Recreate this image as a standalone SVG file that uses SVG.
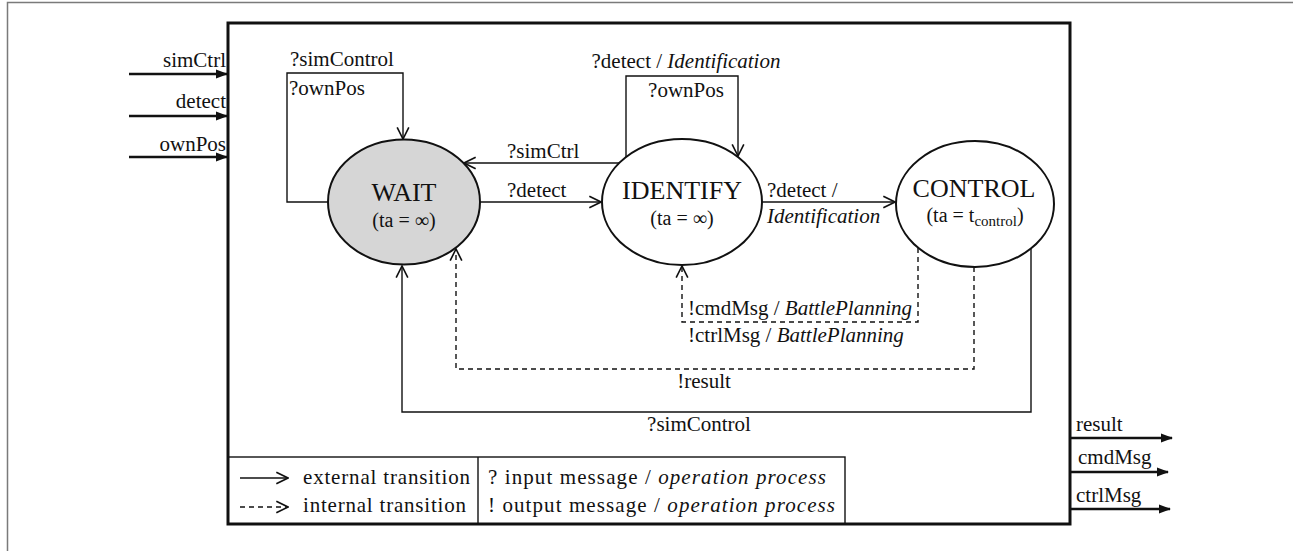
<svg xmlns="http://www.w3.org/2000/svg" width="1293" height="551" viewBox="0 0 1293 551">
  <style>
    text { font-family: "Liberation Serif", "Times New Roman", serif; font-size: 21px; fill: #111; }
    .big { font-size: 26px; }
    .sub { font-size: 20px; }
    .it { font-style: italic; }
    .mid { text-anchor: middle; }
    .end { text-anchor: end; }
    .state { stroke: #111; stroke-width: 2; fill: #fff; }
    .ext { fill: none; stroke: #111; stroke-width: 1.4; marker-end: url(#open); }
    .int { fill: none; stroke: #111; stroke-width: 1.4; stroke-dasharray: 5 4; marker-end: url(#open); }
    .port { fill: none; stroke: #111; stroke-width: 2.5; marker-end: url(#solid); }
  </style>
  <defs>
    <marker id="open" markerUnits="userSpaceOnUse" markerWidth="14" markerHeight="14" viewBox="0 0 12 12" refX="11" refY="6" orient="auto">
      <path d="M1,1 L11,6 L1,11" fill="none" stroke="#111" stroke-width="1.4"/>
    </marker>
    <marker id="solid" markerUnits="userSpaceOnUse" markerWidth="12" markerHeight="10" viewBox="0 0 12 10" refX="11" refY="5" orient="auto">
      <path d="M0,0.5 L12,5 L0,9.5 Z" fill="#111"/>
    </marker>
  </defs>

  <rect width="1293" height="551" fill="#fff"/>
  <!-- outer page border -->
  <path d="M7.5,551 V2.5 H1293" fill="none" stroke="#7a7a7a" stroke-width="1.5"/>

  <!-- coupled model boundary -->
  <g id="model">
    <rect x="228" y="23" width="842" height="501" fill="none" stroke="#111" stroke-width="3"/>
  </g>

  <!-- input ports -->
  <g id="inputs">
    <line class="port" x1="129" y1="74" x2="227" y2="74"/>
    <line class="port" x1="129" y1="116" x2="227" y2="116"/>
    <line class="port" x1="129" y1="157" x2="227" y2="157"/>
    <text class="end" x="226" y="67">simCtrl</text>
    <text class="end" x="226" y="108">detect</text>
    <text class="end" x="226" y="151">ownPos</text>
  </g>

  <!-- output ports -->
  <g id="outputs">
    <line class="port" x1="1071" y1="438" x2="1172" y2="438"/>
    <line class="port" x1="1071" y1="472" x2="1168" y2="472"/>
    <line class="port" x1="1071" y1="509" x2="1170" y2="509"/>
    <text x="1076" y="431">result</text>
    <text x="1078" y="464">cmdMsg</text>
    <text x="1076" y="502">ctrlMsg</text>
  </g>

  <!-- transitions -->
  <g id="connectors">
    <!-- WAIT self loop -->
    <path class="ext" d="M328,202 H287 V73 H403 V139"/>
    <!-- WAIT -> IDENTIFY -->
    <path class="ext" d="M480,202 H601"/>
    <!-- IDENTIFY -> WAIT -->
    <path class="ext" d="M619,163 H464"/>
    <!-- IDENTIFY self loop -->
    <path class="ext" d="M626,157 V76 H738 V156"/>
    <!-- IDENTIFY -> CONTROL -->
    <path class="ext" d="M762,202 H895"/>
    <!-- CONTROL -> IDENTIFY (internal) -->
    <path class="int" d="M918,248 V322 H682 V266"/>
    <!-- CONTROL -> WAIT (internal) -->
    <path class="int" d="M974,267 V369 H456 V249"/>
    <!-- CONTROL -> WAIT (external) -->
    <path class="ext" d="M1031,249 V412 H402 V266"/>

    <text x="290" y="66">?simControl</text>
    <text x="289" y="95">?ownPos</text>
    <text x="507" y="158">?simCtrl</text>
    <text x="507" y="197">?detect</text>
    <text class="mid" x="686" y="68">?detect / <tspan class="it">Identification</tspan></text>
    <text class="mid" x="686" y="97">?ownPos</text>
    <text x="767" y="197">?detect /</text>
    <text class="it" x="767" y="223">Identification</text>
    <text x="688" y="315">!cmdMsg / <tspan class="it">BattlePlanning</tspan></text>
    <text x="688" y="342">!ctrlMsg / <tspan class="it">BattlePlanning</tspan></text>
    <text class="mid" x="704" y="388">!result</text>
    <text class="mid" x="699" y="431">?simControl</text>
  </g>

  <!-- states -->
  <g id="wait">
    <ellipse class="state" cx="404" cy="202" rx="76" ry="62.5" style="fill:#d6d6d6"/>
    <text class="big mid" x="404" y="201">WAIT</text>
    <text class="sub mid" x="404" y="227">(ta = ∞)</text>
  </g>
  <g id="identify">
    <ellipse class="state" cx="682" cy="202" rx="80" ry="63"/>
    <text class="big mid" x="682" y="199">IDENTIFY</text>
    <text class="sub mid" x="682" y="225">(ta = ∞)</text>
  </g>
  <g id="control">
    <ellipse class="state" cx="975" cy="204" rx="79" ry="63"/>
    <text class="big mid" x="974" y="197">CONTROL</text>
    <text class="sub mid" x="975" y="222">(ta = t<tspan font-size="15" dy="4">control</tspan><tspan dy="-4">)</tspan></text>
  </g>

  <!-- legend -->
  <g id="legend">
    <rect x="228" y="457" width="617" height="67" fill="none" stroke="#111" stroke-width="1.4"/>
    <line x1="478" y1="457" x2="478" y2="524" stroke="#111" stroke-width="1.4"/>
    <line class="ext" x1="240" y1="478" x2="288" y2="478"/>
    <line class="int" x1="240" y1="507" x2="288" y2="507"/>
    <text x="303" y="484" textLength="167" lengthAdjust="spacing">external transition</text>
    <text x="303" y="512" textLength="163" lengthAdjust="spacing">internal transition</text>
    <text x="488" y="484" textLength="338" lengthAdjust="spacing">? input message / <tspan class="it">operation process</tspan></text>
    <text x="488" y="512" textLength="347" lengthAdjust="spacing">! output message / <tspan class="it">operation process</tspan></text>
  </g>
</svg>
